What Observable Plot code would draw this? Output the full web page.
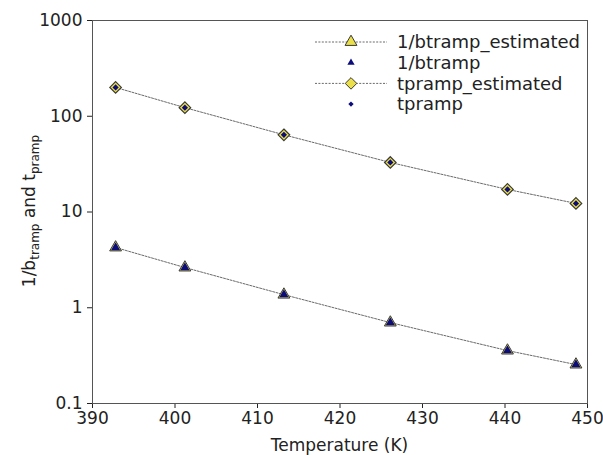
<!DOCTYPE html>
<html>
<head>
<meta charset="utf-8">
<script src="https://cdn.jsdelivr.net/npm/d3@7"></script>
<script src="https://cdn.jsdelivr.net/npm/@observablehq/plot@0.6"></script>
<style>
  body { margin: 0; background: #fff; }
  #chart { width: 603px; height: 455px; font-family: "DejaVu Sans", sans-serif; }
</style>
</head>
<body>
<div id="chart"></div>
<script>
// Ramp parameters against temperature
const temperature = [392.8, 401.2, 413.2, 426.1, 440.3, 448.6];
const invBtrampEstimated = [4.26, 2.63, 1.37, 0.70, 0.357, 0.255];
const invBtramp = [4.26, 2.63, 1.37, 0.70, 0.357, 0.255];
const tprampEstimated = [200, 123, 64, 32.9, 17.2, 12.3];
const tpramp = [200, 123, 64, 32.9, 17.2, 12.3];

const xTicks = [390, 400, 410, 420, 430, 440, 450];
const yTicks = [0.1, 1, 10, 100, 1000];
const yTickLabels = ["0.1", "1", "10", "100", "1000"];
const seriesNames = ["1/btramp_estimated", "1/btramp", "tpramp_estimated", "tpramp"];

const rows = temperature.map((t, i) => ({
  t,
  be: invBtrampEstimated[i],
  b: invBtramp[i],
  te: tprampEstimated[i],
  tp: tpramp[i]
}));

const yellow = "#ebe04a";
const edge = "#3a3a3a";
const navy = "#0c0c7a";
const lineStyle = { stroke: "#6a6a6a", strokeWidth: 1, strokeDasharray: "2,1.4" };

const plot = Plot.plot({
  width: 603,
  height: 455,
  marginLeft: 92,
  marginRight: 16,
  marginTop: 20,
  marginBottom: 52,
  style: { fontFamily: "DejaVu Sans, sans-serif", fontSize: "17px", color: "#222", background: "#fff" },
  x: { domain: [390, 450], ticks: xTicks, tickFormat: d => String(d), tickSize: 5, tickPadding: 3, label: null },
  y: {
    type: "log", domain: [0.1, 1000], ticks: yTicks,
    tickFormat: d => yTickLabels[yTicks.indexOf(d)], tickSize: 5, tickPadding: 5, label: null
  },
  marks: [
    Plot.line(rows, { x: "t", y: "be", ...lineStyle }),
    Plot.line(rows, { x: "t", y: "te", ...lineStyle }),
    Plot.dot(rows, { x: "t", y: "be", symbol: "triangle", r: 4.4, fill: yellow, stroke: edge, strokeWidth: 1 }),
    Plot.dot(rows, { x: "t", y: "b", symbol: "triangle", r: 3.4, fill: navy, stroke: "none" }),
    Plot.dot(rows, { x: "t", y: "te", symbol: "diamond2", r: 5.2, fill: yellow, stroke: edge, strokeWidth: 1.2 }),
    Plot.dot(rows, { x: "t", y: "tp", symbol: "diamond2", r: 2.8, fill: navy, stroke: "none" }),
    Plot.frame({ stroke: "#555", strokeWidth: 1 })
  ]
});

document.getElementById("chart").appendChild(plot);

// Axis titles and legend
const svg = d3.select(plot);

const yTitle = svg.append("text")
  .attr("transform", "translate(35,211) rotate(-90)")
  .attr("text-anchor", "middle")
  .attr("fill", "#222")
  .style("font-size", "17px");
yTitle.append("tspan").text("1/b");
yTitle.append("tspan").attr("dy", 4).style("font-size", "12px").text("tramp");
yTitle.append("tspan").attr("dy", -4).text(" and t");
yTitle.append("tspan").attr("dy", 4).style("font-size", "12px").text("pramp");

svg.append("text")
  .attr("x", 339.5)
  .attr("y", 451)
  .attr("text-anchor", "middle")
  .attr("fill", "#222")
  .style("font-size", "17px")
  .text("Temperature (K)");

const legend = svg.append("g").attr("transform", "translate(315,42)");
const rowGap = 20.7;
const sym = (type, r) => d3.symbol(type, Math.PI * r * r)();
const legendItems = [
  { name: seriesNames[0], line: true, shape: d3.symbolTriangle, r: 4.4, fill: yellow, stroke: edge },
  { name: seriesNames[1], line: false, shape: d3.symbolTriangle, r: 2.7, fill: navy, stroke: "none" },
  { name: seriesNames[2], line: true, shape: d3.symbolDiamond2, r: 5.2, fill: yellow, stroke: edge },
  { name: seriesNames[3], line: false, shape: d3.symbolDiamond2, r: 2.4, fill: navy, stroke: "none" }
];
legendItems.forEach((it, i) => {
  const g = legend.append("g").attr("transform", `translate(0,${i * rowGap})`);
  if (it.line) {
    g.append("line").attr("x1", 0).attr("x2", 72).attr("y1", 0).attr("y2", 0)
      .attr("stroke", lineStyle.stroke).attr("stroke-width", 1).attr("stroke-dasharray", lineStyle.strokeDasharray);
  }
  g.append("path").attr("d", sym(it.shape, it.r)).attr("transform", "translate(36,0)")
    .attr("fill", it.fill).attr("stroke", it.stroke);
  g.append("text").attr("x", 82).attr("y", 0).attr("dy", "0.35em")
    .attr("text-anchor", "start")
    .attr("fill", "#222").style("font-size", "18px").text(it.name);
});
</script>
</body>
</html>
